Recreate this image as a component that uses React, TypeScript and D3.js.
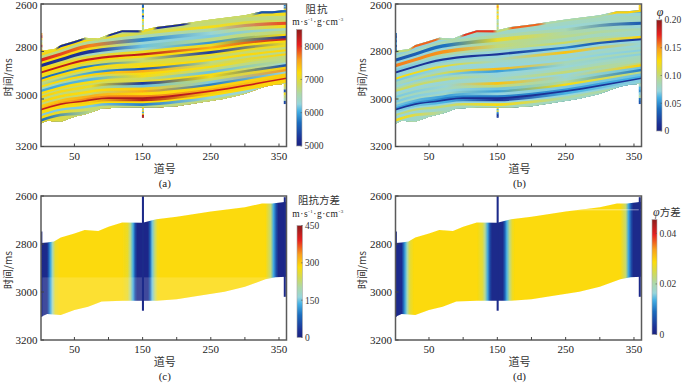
import React from 'react';
import { scaleLinear, line, area, curveMonotoneX } from 'd3';

const width = 700;
const height = 385;

// 色标
const rampStops = [0, 0.06, 0.2, 0.3, 0.36, 0.45, 0.53, 0.63, 0.74, 0.87, 1];
const rampColors = ['#1a2380', '#1c2f94', '#1b6cbd', '#45b0e4', '#96d5dc', '#aed8a6', '#cfda5a', '#fcdc0a', '#f8a01c', '#e6201f', '#8c1c1c'];

// 反演剖面的上下边界
const topTraces = [1, 10, 20, 30, 50, 65, 85, 100, 120, 150, 170, 200, 250, 300, 325, 340, 355, 361];
const topTime = [2796, 2794, 2790, 2773, 2756, 2742, 2746, 2728, 2710, 2711, 2697, 2686, 2665, 2647, 2631, 2631, 2626, 2624];
const bottomTraces = [1, 10, 30, 50, 70, 90, 120, 170, 200, 230, 270, 300, 330, 345, 361];
const bottomTime = [3103, 3092, 3096, 3075, 3061, 3040, 3036, 3036, 3030, 3017, 2999, 2978, 2947, 2939, 2936];

// 两个控制层位，其余层按比例放在它们之间
const guideTraces = [1, 30, 60, 100, 150, 200, 250, 300, 361];
const upperGuide = [2884, 2859, 2835, 2818, 2807, 2793, 2779, 2759, 2744];
const lowerGuide = [3048, 3025, 3014, 3000, 3000, 2989, 2971, 2947, 2916];

const layerTraces = [1, 75, 150, 250, 360];
const layerFractions = [-0.85, -0.7, -0.63, -0.55, -0.46, -0.4, -0.33, -0.25, -0.19, -0.11, -0.06, 0, 0.05, 0.1, 0.16, 0.21, 0.27, 0.32, 0.37, 0.42, 0.47, 0.53, 0.59, 0.63, 0.69, 0.75, 0.81, 0.86, 0.92, 0.96, 1.0, 1.05, 1.09, 1.15, 1.22, 1.29];
const layerImpedance = [
  [7050, 7050, 7200, 7050, 7100],
  [6750, 6750, 6800, 6750, 5800],
  [7200, 7200, 7150, 6800, 7150],
  [6750, 6700, 6750, 6750, 6700],
  [7250, 7200, 6850, 7150, 6800],
  [6750, 6600, 6500, 6600, 7900],
  [8100, 7700, 5850, 6300, 7150],
  [7200, 7150, 6300, 6200, 6500],
  [5200, 5250, 6150, 6700, 6750],
  [7200, 6400, 6400, 5900, 7200],
  [7250, 7000, 7100, 7100, 5200],
  [8300, 8200, 8250, 7500, 8200],
  [7200, 7250, 7200, 7200, 7200],
  [7100, 6900, 6800, 5300, 7050],
  [5700, 5800, 6800, 7100, 7100],
  [7250, 7200, 7100, 6800, 6750],
  [6700, 6800, 7200, 7200, 7250],
  [6750, 6000, 5500, 6700, 6700],
  [7200, 7250, 7500, 6800, 7250],
  [6500, 6700, 7200, 7150, 6700],
  [6000, 6100, 7150, 6700, 6700],
  [7200, 7150, 6800, 6150, 6700],
  [6750, 6800, 7000, 7200, 6300],
  [7250, 7100, 5300, 7150, 5500],
  [6700, 6800, 6150, 6800, 7300],
  [7250, 7200, 7300, 6200, 7600],
  [6750, 6800, 7500, 5800, 6300],
  [7300, 7500, 7200, 7250, 7300],
  [7400, 7700, 7700, 7500, 7300],
  [8200, 8300, 8350, 8200, 8200],
  [7200, 7300, 8300, 7300, 7250],
  [7200, 7200, 7200, 7200, 7250],
  [6200, 6200, 5800, 6300, 6300],
  [7200, 6800, 6700, 6750, 6750],
  [5700, 6700, 6700, 6700, 6700],
  [7100, 6700, 6700, 6700, 6700],
];
const layerPorosity = [
  [0.078, 0.078, 0.07, 0.078, 0.074],
  [0.08, 0.08, 0.08, 0.08, 0.055],
  [0.072, 0.072, 0.074, 0.08, 0.074],
  [0.08, 0.084, 0.08, 0.08, 0.084],
  [0.07, 0.072, 0.08, 0.074, 0.08],
  [0.08, 0.086, 0.09, 0.086, 0.032],
  [0.028, 0.042, 0.118, 0.09, 0.074],
  [0.072, 0.074, 0.095, 0.095, 0.085],
  [0.155, 0.15, 0.1, 0.084, 0.08],
  [0.072, 0.09, 0.09, 0.105, 0.072],
  [0.068, 0.076, 0.074, 0.074, 0.128],
  [0.012, 0.015, 0.014, 0.045, 0.015],
  [0.072, 0.07, 0.072, 0.072, 0.072],
  [0.074, 0.08, 0.08, 0.135, 0.076],
  [0.125, 0.115, 0.08, 0.074, 0.074],
  [0.068, 0.072, 0.074, 0.08, 0.08],
  [0.084, 0.08, 0.072, 0.072, 0.07],
  [0.08, 0.105, 0.138, 0.084, 0.085],
  [0.072, 0.07, 0.055, 0.08, 0.07],
  [0.09, 0.084, 0.072, 0.074, 0.084],
  [0.105, 0.1, 0.074, 0.084, 0.085],
  [0.072, 0.074, 0.08, 0.1, 0.084],
  [0.08, 0.08, 0.076, 0.072, 0.1],
  [0.068, 0.074, 0.135, 0.074, 0.13],
  [0.084, 0.08, 0.1, 0.08, 0.066],
  [0.068, 0.072, 0.066, 0.095, 0.045],
  [0.08, 0.08, 0.055, 0.125, 0.095],
  [0.066, 0.055, 0.072, 0.068, 0.066],
  [0.056, 0.045, 0.045, 0.052, 0.06],
  [0.014, 0.012, 0.01, 0.014, 0.014],
  [0.07, 0.06, 0.012, 0.06, 0.07],
  [0.072, 0.072, 0.072, 0.072, 0.07],
  [0.1, 0.1, 0.125, 0.09, 0.09],
  [0.072, 0.08, 0.084, 0.08, 0.08],
  [0.125, 0.084, 0.084, 0.084, 0.084],
  [0.076, 0.084, 0.084, 0.084, 0.084],
];

// 顶部薄层随道号变化
const capTraces = [1, 22, 28, 60, 68, 95, 102, 143, 150, 165, 172, 210, 222, 310, 322, 352, 361];
const capImpedance = [7100, 7100, 5200, 5200, 6800, 6800, 5200, 5200, 7100, 7100, 5200, 5200, 6800, 6800, 5500, 5500, 5800];
const capPorosity = [0.1, 0.1, 0.16, 0.16, 0.09, 0.09, 0.17, 0.17, 0.1, 0.1, 0.16, 0.16, 0.09, 0.09, 0.13, 0.13, 0.13];

// 单独的井旁道（道号范围、起始时间、时间步长、取值）
const wellTraces = [[149, 152], [149, 152], [1, 3], [357, 360], [357, 360]];
const wellStart = [2600, 3036, 2722, 2604, 2936];
const wellStep = [8, 6, 10, 5, 12];
const wellImpedance = [
  [5700, 5600, 7100, 5900, 6100, 7200, 5500, 6100, 7200, 6700, 6300, 7000, 6500, 6700],
  [7200, 6200, 7300, 6000, 7100, 8300, 8400],
  [7600, 8100, 7300, 6500, 7000, 8200, 6800, 7700],
  [5800, 6200, 5600, 7000],
  [7000, 6700, 5500, 7100, 6700, 6500, 5400],
];
const wellPorosity = [
  [0.13, 0.15, 0.12, 0.09, 0.13, 0.08, 0.13, 0.12, 0.08, 0.09, 0.1, 0.08, 0.1, 0.09],
  [0.12, 0.06, 0.12, 0.05, 0.03, 0.01, 0.02],
  [0.04, 0.02, 0.05, 0.03, 0.06, 0.02, 0.05, 0.03],
  [0.13, 0.12, 0.14, 0.13],
  [0.08, 0.06, 0.05, 0.07, 0.09, 0.04, 0.03],
];

// 方差剖面：只随道号变化
const varianceTraces = [1, 10, 12, 15, 18, 22, 28, 120, 128, 132, 136, 139, 142, 158, 161, 164, 168, 172, 176, 330, 338, 342, 346, 349, 361];
const impedanceVariance = [12, 15, 70, 130, 190, 265, 285, 285, 265, 215, 135, 60, 12, 12, 80, 150, 225, 275, 285, 285, 225, 130, 60, 12, 12];
const porosityVariance = [0.0015, 0.002, 0.007, 0.013, 0.019, 0.026, 0.0288, 0.0288, 0.026, 0.021, 0.013, 0.006, 0.0015, 0.0015, 0.008, 0.014, 0.022, 0.027, 0.0288, 0.0288, 0.023, 0.013, 0.006, 0.0015, 0.0015];
const varianceWellTraces = [[149, 152], [1, 3], [357, 360]];
const varianceWellTimes = [[2600, 3078], [2748, 3103], [2605, 3020]];

const xTicks = [50, 100, 150, 200, 250, 300, 350];
const xLabels = [50, 150, 250, 350];
const yTicks = [2600, 2800, 3000, 3200];

const ramp = scaleLinear<string>().domain(rampStops).range(rampColors).clamp(true);

const interp = (xs: number[], ys: number[]) => scaleLinear().domain(xs).range(ys);
const topAt = interp(topTraces, topTime);
const upperAt = interp(guideTraces, upperGuide);
const lowerAt = interp(guideTraces, lowerGuide);
const pathTraces = [1, 30, 60, 100, 150, 200, 250, 300, 361];

const Units = ({ x, y, size = 9.5 }: any) => (
  <text x={x} y={y} textAnchor="middle" fontFamily="Liberation Serif" fontSize={size} fill="#222" letterSpacing="0.5">
    m·s<tspan fontSize={5} dy={-4}>-1</tspan><tspan dy={4}>·g·cm</tspan><tspan fontSize={5} dy={-4}>-3</tspan>
  </text>
);

const Panel = ({ id, left, right, top, bottom, kind, domain, bar, barTicks, letter, labelShift }: any) => {
  const x = scaleLinear().domain([1, 361]).range([left, right]);
  const y = scaleLinear().domain([2600, 3200]).range([top, bottom]);
  const value = scaleLinear().domain(domain).range([0, 1]);
  const colorOf = (v: number) => ramp(value(v));

  const pt = line<number[]>().x((d) => x(d[0])).y((d) => y(d[1]));
  const upperEdge = pt(topTraces.map((t, i) => [t, topTime[i]])) as string;
  const lowerEdge = pt(bottomTraces.map((t, i) => [t, bottomTime[i]]).reverse()) as string;
  const region = `${upperEdge}L${lowerEdge.slice(1)}Z`;

  const mid = (left + right) / 2 + 1;
  const isLayer = kind === 'impedance' || kind === 'porosity';
  const layerValues = kind === 'impedance' ? layerImpedance : layerPorosity;
  const capValues = kind === 'impedance' ? capImpedance : capPorosity;
  const wellValues = kind === 'impedance' ? wellImpedance : wellPorosity;
  const varianceValues = kind === 'impVar' ? impedanceVariance : porosityVariance;
  const barScale = scaleLinear().domain(domain).range([bar.bottom, bar.top]);

  const band = (f: number) => area<number>()
    .x((t) => x(t))
    .y0((t) => y(upperAt(t) + f * (lowerAt(t) - upperAt(t))))
    .y1((t) => y(lowerAt(t) + 0.6 * (lowerAt(t) - upperAt(t))))
    .curve(curveMonotoneX)(pathTraces) as string;
  const cap = area<number>()
    .x((t) => x(t))
    .y0((t) => y(topAt(t) - 3))
    .y1((t) => y(topAt(t) + 9))(topTraces) as string;

  return (
    <g>
      <defs>
        <clipPath id={`${id}-clip`}><path d={region} /></clipPath>
        <filter id={`${id}-soft`} x="-5%" y="-5%" width="110%" height="110%">
          <feGaussianBlur stdDeviation="0.45" />
        </filter>
        <linearGradient id={`${id}-bar`} x1="0" x2="0" y1="1" y2="0">
          {rampStops.map((s, i) => <stop key={s} offset={s} stopColor={rampColors[i]} />)}
        </linearGradient>
        {isLayer && layerValues.map((row, i) => (
          <linearGradient key={i} id={`${id}-l${i}`} gradientUnits="userSpaceOnUse" x1={x(1)} x2={x(361)} y1="0" y2="0">
            {row.map((v, j) => <stop key={j} offset={(layerTraces[j] - 1) / 360} stopColor={colorOf(v)} />)}
          </linearGradient>
        ))}
        {isLayer && (
          <linearGradient id={`${id}-cap`} gradientUnits="userSpaceOnUse" x1={x(1)} x2={x(361)} y1="0" y2="0">
            {capTraces.map((t, j) => <stop key={j} offset={(t - 1) / 360} stopColor={colorOf(capValues[j])} />)}
          </linearGradient>
        )}
        {!isLayer && (
          <linearGradient id={`${id}-var`} gradientUnits="userSpaceOnUse" x1={x(1)} x2={x(361)} y1="0" y2="0">
            {varianceTraces.map((t, j) => <stop key={j} offset={(t - 1) / 360} stopColor={colorOf(varianceValues[j])} />)}
          </linearGradient>
        )}
      </defs>

      <g filter={`url(#${id}-soft)`}>
        <g clipPath={`url(#${id}-clip)`}>
          {isLayer && layerFractions.map((f, i) => <path key={i} d={band(f)} fill={`url(#${id}-l${i})`} />)}
          {isLayer && <path d={cap} fill={`url(#${id}-cap)`} />}
          {!isLayer && <rect x={left} y={top} width={right - left} height={bottom - top} fill={`url(#${id}-var)`} />}
          {kind === 'impVar' && <rect x={left} y={y(2939)} width={right - left} height={y(3110) - y(2939)} fill="#fff" opacity={0.16} />}
          {kind === 'porVar' && <rect x={left} y={y(2656)} width={right - left} height={0.8} fill="#fff" opacity={0.6} />}
        </g>
        {isLayer && wellValues.map((vals, w) => vals.map((v, k) => (
          <rect key={`${w}-${k}`} x={x(wellTraces[w][0])} width={x(wellTraces[w][1]) - x(wellTraces[w][0])}
            y={y(wellStart[w] + k * wellStep[w])} height={y(wellStep[w]) - y(0) + 0.3} fill={colorOf(v)} />
        )))}
        {!isLayer && varianceWellTraces.map((tr, w) => (
          <rect key={w} x={x(tr[0])} width={x(tr[1]) - x(tr[0])} y={y(varianceWellTimes[w][0])}
            height={y(varianceWellTimes[w][1]) - y(varianceWellTimes[w][0])} fill={ramp(0.03)} />
        ))}
      </g>

      <rect x={left} y={top} width={right - left} height={bottom - top} fill="none" stroke="#5a5a5a" strokeWidth={1.5} />
      {xTicks.map((t) => <line key={t} x1={x(t)} x2={x(t)} y1={bottom} y2={bottom - 3} stroke="#444" />)}
      {yTicks.map((t) => <line key={t} x1={left} x2={left + 3} y1={y(t)} y2={y(t)} stroke="#444" />)}
      {xLabels.map((t) => (
        <text key={t} x={x(t)} y={bottom + 13} textAnchor="middle" fontFamily="Liberation Serif" fontSize={11} fill="#222">{t}</text>
      ))}
      {yTicks.map((t, i) => (
        <text key={t} x={left - 3.5} y={y(t) + 3.6 + labelShift[i]} textAnchor="end" fontFamily="Liberation Serif" fontSize={11} fill="#222">{t}</text>
      ))}
      <text transform={`translate(${left - 29.5},${(top + bottom) / 2 + 2}) rotate(-90)`} textAnchor="middle" fontFamily="'Noto Sans CJK SC'" fontSize={10} fill="#333">时间/ms</text>
      <text x={mid} y={bottom + 26} textAnchor="middle" fontFamily="'Noto Sans CJK SC'" fontSize={11} fill="#333">道号</text>
      <text x={mid} y={bottom + 40} textAnchor="middle" fontFamily="Liberation Serif" fontSize={11} fill="#222">{letter}</text>

      <rect x={bar.x} y={bar.top} width={bar.w} height={bar.bottom - bar.top} fill={`url(#${id}-bar)`} stroke="#aaa" strokeWidth={0.6} />
      {barTicks.map((t: number, i: number) => (
        <g key={t}>
          <line x1={bar.x + bar.w - 1.5} x2={bar.x + bar.w} y1={barScale(t)} y2={barScale(t)} stroke="#555" strokeWidth={0.6} />
          <text x={bar.x + bar.w + 2.5} y={barScale(t) + 3.4} fontFamily="Liberation Serif" fontSize={9.5} fill="#333">{bar.labels[i]}</text>
        </g>
      ))}
    </g>
  );
};

const App = () => (
  <svg width={width} height={height} viewBox={`0 0 ${width} ${height}`}
    style={{ position: 'absolute', left: 0, top: 0, background: '#fff' }}>
    <Panel id="a" kind="impedance" left={41} right={286.5} top={4} bottom={146.5} domain={[5000, 8500]} letter="(a)"
      labelShift={[1, -4.5, -3.5, 0]} barTicks={[5000, 6000, 7000, 8000]}
      bar={{ x: 296.5, w: 5.5, top: 29.5, bottom: 146, labels: ['5000', '6000', '7000', '8000'] }} />
    <Panel id="b" kind="porosity" left={395.5} right={641.5} top={4} bottom={146.5} domain={[0, 0.2]} letter="(b)"
      labelShift={[1, 0, 0, 0]} barTicks={[0, 0.05, 0.1, 0.15, 0.2]}
      bar={{ x: 656.5, w: 5.5, top: 20, bottom: 131, labels: ['0', '0.05', '0.10', '0.15', '0.20'] }} />
    <Panel id="c" kind="impVar" left={41} right={286.5} top={196} bottom={340} domain={[0, 450]} letter="(c)"
      labelShift={[0, 0, 0, 0]} barTicks={[0, 150, 300, 450]}
      bar={{ x: 297, w: 5.5, top: 225.5, bottom: 337.5, labels: ['0', '150', '300', '450'] }} />
    <Panel id="d" kind="porVar" left={395.5} right={641.5} top={196} bottom={340} domain={[0, 0.0455]} letter="(d)"
      labelShift={[0, 0, 0, 0]} barTicks={[0, 0.02, 0.04]}
      bar={{ x: 652, w: 5, top: 219.5, bottom: 334.5, labels: ['0', '0.02', '0.04'] }} />

    <text x={317} y={12.5} textAnchor="middle" fontFamily="'Noto Sans CJK SC'" fontSize={10.5} fill="#333" letterSpacing="1">阻抗</text>
    <Units x={318} y={25} />
    <text x={660} y={16} textAnchor="middle" fontFamily="Liberation Serif" fontStyle="italic" fontSize={12} fill="#222">φ</text>
    <text x={319} y={204} textAnchor="middle" fontFamily="'Noto Sans CJK SC'" fontSize={10.5} fill="#333">阻抗方差</text>
    <Units x={318} y={217} />
    <text x={653} y={216} fontFamily="'Noto Sans CJK SC'" fontSize={10.5} fill="#333"><tspan fontFamily="Liberation Serif" fontStyle="italic" fontSize={12}>φ</tspan>方差</text>
  </svg>
);

export default App;
